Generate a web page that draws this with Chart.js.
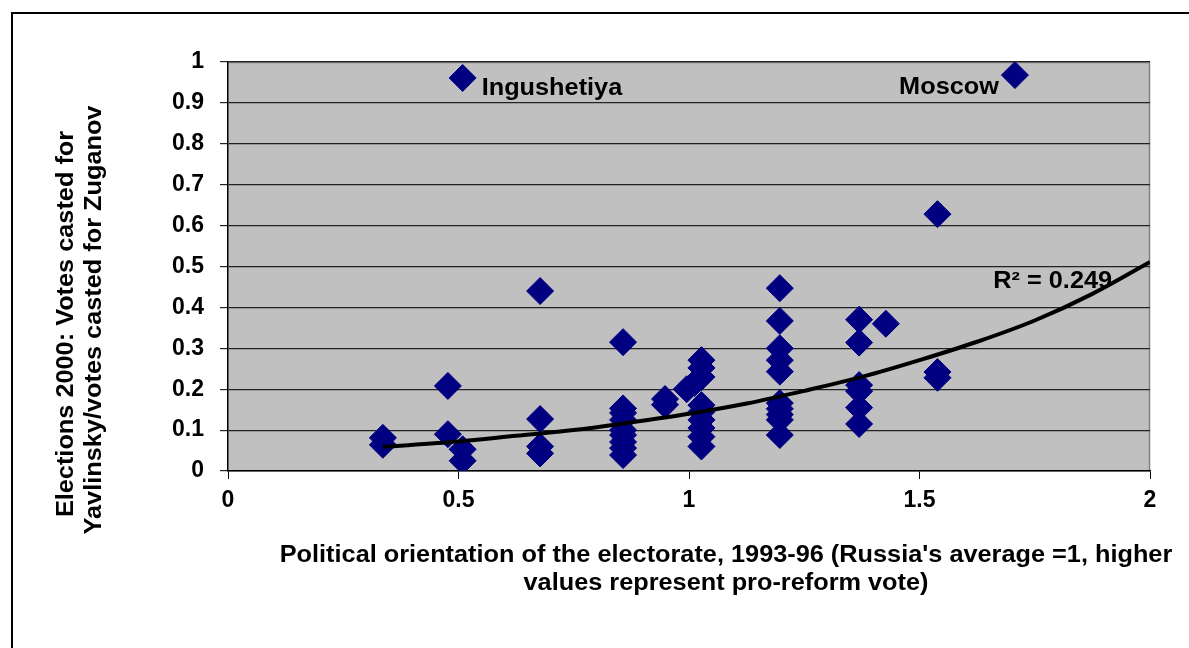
<!DOCTYPE html>
<html lang="en">
<head>
    <meta charset="UTF-8">
    <title>Elections 2000 vs political orientation</title>
    <script src="https://cdn.jsdelivr.net/npm/chart.js"></script>
    <style>
        body {
            margin: 0;
            width: 1189px;
            height: 648px;
            overflow: hidden;
            background: #fff;
            position: relative;
        }
        .frame {
            position: absolute;
            left: 11px;
            top: 12px;
            width: 1300px;
            height: 800px;
            border: 2px solid #000;
            box-sizing: border-box;
        }
        .chart-box {
            position: absolute;
            left: 0;
            top: 0;
            width: 1189px;
            height: 648px;
        }
    </style>
</head>
<body>
    <div class="frame"></div>
    <div class="chart-box">
        <canvas id="scatterChart" width="1189" height="648"></canvas>
    </div>

    <script>
        // regions: orientation 1993-96 (x) and Yavlinsky/Zuganov ratio 2000 (y)
        const orientation = [
            0.336, 0.336,
            0.477, 0.477,
            0.509, 0.509, 0.509,
            0.677, 0.677, 0.677, 0.677,
            0.857, 0.857, 0.857, 0.857, 0.857, 0.857, 0.857, 0.857, 0.857,
            0.948, 0.948,
            0.995, 1.012,
            1.027, 1.027, 1.027, 1.027, 1.027, 1.027, 1.027, 1.027, 1.027,
            1.197, 1.197, 1.197, 1.197, 1.197, 1.197, 1.197, 1.197, 1.197, 1.197,
            1.369, 1.369, 1.369, 1.369, 1.369, 1.369,
            1.427,
            1.539, 1.539, 1.539,
            1.707
        ];
        const voteRatio = [
            0.081, 0.064,
            0.208, 0.090,
            0.961, 0.053, 0.025,
            0.440, 0.127, 0.060, 0.043,
            0.315, 0.153, 0.142, 0.125, 0.100, 0.088, 0.071, 0.056, 0.039,
            0.176, 0.162,
            0.200, 0.215,
            0.271, 0.252, 0.230, 0.161, 0.145, 0.125, 0.105, 0.084, 0.060,
            0.447, 0.367, 0.300, 0.271, 0.243, 0.166, 0.152, 0.138, 0.125, 0.088,
            0.370, 0.314, 0.210, 0.195, 0.155, 0.115,
            0.360,
            0.628, 0.242, 0.228,
            0.968
        ];

        // exponential trendline
        const trendX = [0.336, 0.5, 0.625, 0.75, 0.875, 1.0, 1.125, 1.25, 1.375, 1.5, 1.625, 1.75, 1.875, 2.0];
        const trendY = [0.059, 0.072, 0.086, 0.100, 0.119, 0.140, 0.165, 0.196, 0.230, 0.271, 0.316, 0.368, 0.433, 0.511];

        const yTicks = [0, 0.1, 0.2, 0.3, 0.4, 0.5, 0.6, 0.7, 0.8, 0.9, 1];
        const xTicks = [0, 0.5, 1, 1.5, 2];

        const yTitle = ['Elections 2000: Votes casted for', 'Yavlinsky/votes casted for Zuganov'];
        const xTitle = ["Political orientation of the electorate, 1993-96 (Russia's average =1, higher",
                        'values represent pro-reform vote)'];
        const r2Text = 'R\u00B2 = 0.249';

        const FONT = '"Liberation Sans", Arial, sans-serif';
        const STRETCH = 1.1; // the original text is a bit wider than Arial
        const points = orientation.map((x, i) => ({ x: x, y: voteRatio[i] }));
        const trend = trendX.map((x, i) => ({ x: x, y: trendY[i] }));

        function wideText(ctx, text, x, y, align, rot) {
            ctx.save();
            ctx.translate(x, y);
            if (rot) ctx.rotate(rot);
            ctx.scale(STRETCH, 1);
            ctx.textAlign = align;
            ctx.fillText(text, 0, 0);
            ctx.restore();
        }

        const plotDecor = {
            id: 'plotDecor',
            beforeDraw(chart) {
                const a = chart.chartArea;
                const ctx = chart.ctx;
                ctx.save();
                ctx.fillStyle = '#c0c0c0';
                ctx.fillRect(a.left, a.top, a.right - a.left, a.bottom - a.top);
                ctx.strokeStyle = '#808080';
                ctx.lineWidth = 1.5;
                ctx.beginPath();
                ctx.moveTo(a.left, a.top + 0.5);
                ctx.lineTo(a.right - 0.5, a.top + 0.5);
                ctx.lineTo(a.right - 0.5, a.bottom);
                ctx.stroke();
                ctx.restore();
            },
            afterDraw(chart) {
                const ctx = chart.ctx;
                const xs = chart.scales.x;
                const ys = chart.scales.y;
                ctx.save();
                ctx.fillStyle = '#000';
                ctx.font = 'bold 23px ' + FONT;
                ctx.textBaseline = 'middle';

                // axis titles
                wideText(ctx, xTitle[0], 726, 556, 'center');
                wideText(ctx, xTitle[1], 726, 584, 'center');
                wideText(ctx, yTitle[0], 67, 324, 'center', -Math.PI / 2);
                wideText(ctx, yTitle[1], 95, 320, 'center', -Math.PI / 2);

                // point labels
                wideText(ctx, 'Ingushetiya', xs.getPixelForValue(0.509) + 19, ys.getPixelForValue(0.961) + 11, 'left');
                wideText(ctx, 'Moscow', xs.getPixelForValue(1.707) - 16, ys.getPixelForValue(0.968) + 13, 'right');
                wideText(ctx, r2Text, xs.getPixelForValue(1.66), ys.getPixelForValue(0.462), 'left');
                ctx.restore();
            }
        };

        const ctxScatter = document.getElementById('scatterChart').getContext('2d');
        const scatterChart = new Chart(ctxScatter, {
            type: 'scatter',
            data: {
                datasets: [{
                    type: 'line',
                    label: 'Trend',
                    data: trend,
                    borderColor: '#000',
                    borderWidth: 4,
                    pointRadius: 0,
                    fill: false,
                    cubicInterpolationMode: 'monotone',
                    order: 0
                }, {
                    label: 'Regions',
                    data: points,
                    pointStyle: 'rectRot',
                    pointRadius: 13.5,
                    backgroundColor: '#000080',
                    borderColor: '#000080',
                    borderWidth: 1,
                    order: 1
                }]
            },
            options: {
                responsive: false,
                animation: false,
                events: [],
                layout: { padding: { left: 0, right: 39, top: 62, bottom: 0 } },
                plugins: {
                    legend: { display: false },
                    tooltip: { enabled: false }
                },
                scales: {
                    x: {
                        type: 'linear',
                        min: 0,
                        max: 2,
                        afterFit: s => { s.height = 177; },
                        afterBuildTicks: s => { s.ticks = xTicks.map(v => ({ value: v })); },
                        grid: {
                            drawOnChartArea: false,
                            color: '#000',
                            tickLength: 8,
                            tickColor: '#000'
                        },
                        border: { color: '#000', width: 1.5 },
                        ticks: {
                            color: '#000',
                            padding: 8,
                            callback: v => String(v),
                            font: { family: FONT, size: 23, weight: 'bold' }
                        }
                    },
                    y: {
                        type: 'linear',
                        min: 0,
                        max: 1,
                        afterFit: s => { s.width = 228; },
                        afterBuildTicks: s => { s.ticks = yTicks.map(v => ({ value: v })); },
                        grid: {
                            color: '#222',
                            lineWidth: 1.2,
                            tickLength: 8,
                            tickColor: '#222'
                        },
                        border: { color: '#000', width: 1.5 },
                        ticks: {
                            color: '#000',
                            padding: 16,
                            callback: v => String(v),
                            font: { family: FONT, size: 23, weight: 'bold' }
                        }
                    }
                }
            },
            plugins: [plotDecor]
        });
    </script>
</body>
</html>
